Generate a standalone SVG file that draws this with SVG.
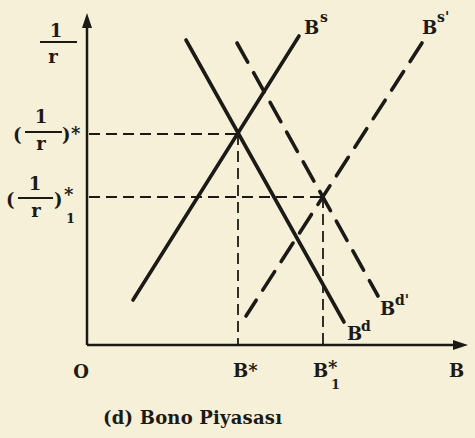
<svg xmlns="http://www.w3.org/2000/svg" width="475" height="438" viewBox="0 0 475 438">
<style>
.t{font-family:"DejaVu Serif","Liberation Serif",serif;font-weight:bold;fill:#1c1a17;font-size:18px}
.s{font-size:14px}
.ax{stroke:#1c1a17;stroke-width:2.5;fill:none}
.sol{stroke:#1c1a17;stroke-width:3.6;stroke-linecap:round;fill:none}
.dsh{stroke:#1c1a17;stroke-width:3.6;stroke-linecap:round;fill:none;stroke-dasharray:22 12}
.ref{stroke:#1c1a17;stroke-width:1.8;fill:none;stroke-dasharray:11 6}
.fr{stroke:#1c1a17;stroke-width:1.8}
</style>
<rect width="475" height="438" fill="#f6f0d8"/>
<g id="axes">
<line class="ax" x1="87" y1="345" x2="87" y2="24"/>
<polygon points="87,13 82,28 92,28" fill="#1c1a17"/>
<line class="ax" x1="87" y1="345" x2="456" y2="345"/>
<polygon points="468,345 453,340 453,350" fill="#1c1a17"/>
</g>
<g id="connectors">
<line class="ref" x1="89" y1="134" x2="238" y2="134"/>
<line class="ref" x1="238" y1="134" x2="238" y2="344"/>
<line class="ref" x1="89" y1="197" x2="323" y2="197"/>
<line class="ref" x1="323" y1="197" x2="323" y2="344"/>
</g>
<g id="Bs"><line class="sol" x1="133" y1="300" x2="299" y2="36"/>
<text class="t" x="304" y="34">B</text><text class="t s" x="320" y="22">s</text></g>
<g id="Bd"><line class="sol" x1="186" y1="40" x2="344" y2="322"/>
<text class="t" x="347" y="340">B</text><text class="t s" x="361" y="331">d</text></g>
<g id="Bs2"><line class="dsh" x1="422" y1="43" x2="246" y2="316"/>
<text class="t" x="422" y="34">B</text><text class="t s" x="437" y="22">s'</text></g>
<g id="Bd2"><line class="dsh" x1="237" y1="43" x2="378" y2="296"/>
<text class="t" x="380" y="315">B</text><text class="t s" x="395" y="305">d'</text></g>
<g id="ylabels">
<text class="t" x="56" y="37" text-anchor="middle">1</text>
<line class="fr" x1="40" y1="42" x2="77" y2="42"/>
<text class="t" x="53" y="63" text-anchor="middle">r</text>
<text class="t" x="13" y="141" font-size="20">(</text>
<text class="t" x="41" y="123" text-anchor="middle">1</text>
<line class="fr" x1="25" y1="132" x2="62" y2="132"/>
<text class="t" x="41" y="150" text-anchor="middle">r</text>
<text class="t" x="62" y="141" font-size="20">)</text>
<text class="t" x="71" y="140">*</text>
<text class="t" x="6" y="206" font-size="20">(</text>
<text class="t" x="35" y="190" text-anchor="middle">1</text>
<line class="fr" x1="18" y1="198" x2="53" y2="198"/>
<text class="t" x="36" y="217" text-anchor="middle">r</text>
<text class="t" x="54" y="206" font-size="20">)</text>
<text class="t" x="64" y="201">*<tspan x="66" y="223" font-size="13">1</tspan></text>
</g>
<g id="xlabels">
<text class="t" x="81" y="378" text-anchor="middle">O</text>
<text class="t" x="233" y="377">B*</text>
<text class="t" x="313" y="377">B</text><text class="t" x="328" y="374">*<tspan x="331" y="389" font-size="13">1</tspan></text>
<text class="t" x="449" y="377">B</text>
</g>
<text class="t" x="103" y="424" textLength="179">(d) Bono Piyasası</text>
</svg>
